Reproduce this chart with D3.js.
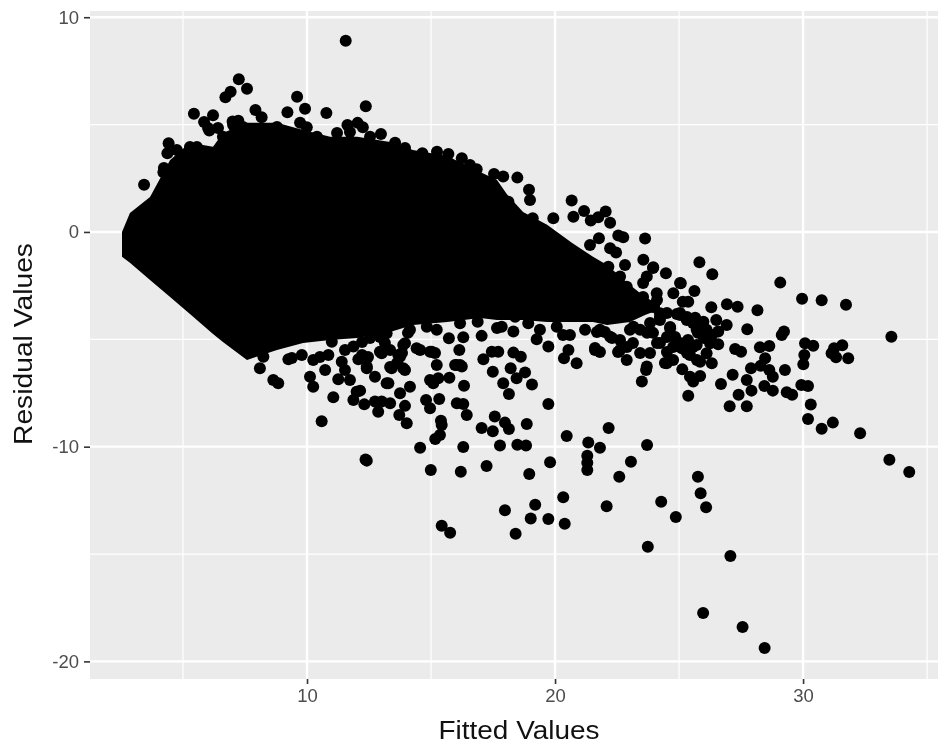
<!DOCTYPE html>
<html><head><meta charset="utf-8">
<style>html,body{margin:0;padding:0;background:#fff}svg{display:block;filter:blur(.45px)}</style>
<script src="https://cdn.jsdelivr.net/npm/d3@7/dist/d3.min.js"></script></head><body><div id="chart"></div>
<script>
const xLabel = "Fitted Values", yLabel = "Residual Values";
const xTicks = [10,20,30], yTicks = [-20,-10,0,10];
const xMinor = [5,15,25,35], yMinor = [-15,-5,5];
// silhouette of the overplotted core of the cloud: fitted value, top and bottom residual
const coreFitted = [2.54,2.86,3.67,4.48,5.28,6.21,6.61,7.58,8.79,9.84,10.93,12.02,13.35,14.27,15.65,16.98,17.66,18.06,18.71,19.68,20.69,21.53,22.10,23.02,23.63,24.23];
const coreTop = [0,.88,1.63,3.35,4.15,3.97,4.61,5.08,5.08,4.75,4.43,4.43,4.19,3.82,3.54,2.79,2.42,1.75,.93,.33,-.51,-1.16,-1.54,-2.47,-3.03,-3.40];
const coreBottom = [-1.16,-1.44,-2.24,-3.03,-3.82,-4.75,-5.12,-5.96,-5.50,-5.17,-5.03,-4.94,-4.66,-4.33,-4.19,-4.01,-4.10,-4.10,-4.10,-4.19,-4.19,-4.19,-4.33,-4.19,-3.87,-3.60];
// individual points [fitted, residual]
const upperRim = [[11.56,8.90],[7.25,7.11],[7.58,6.67],[6.92,6.53],[6.71,6.27],[9.60,6.30],[7.92,5.68],[9.21,5.58],[9.92,5.74],[10.78,5.54],[12.37,5.85],[5.44,5.51],[6.21,5.44],[5.85,5.12],[6.06,4.72],[7.00,5.14],[7.23,5.18],[8.17,5.34],[9.72,5.09],[9.99,4.88],[11.63,4.98],[12.04,5.08],[12.25,4.88],[12.98,4.56],[4.42,4.13],[4.37,3.67],[4.21,2.78],[3.43,2.20],
[4.23,2.98],[4.75,3.82],[6.01,4.84],[6.41,4.84],[6.61,4.43],[7.02,4.98],[7.42,4.89],[8.79,4.89],[10.40,4.43],[11.21,4.61],[12.54,4.43],[11.73,4.66],[5.28,3.96],[5.56,3.96],[13.55,4.15],[13.95,3.91],[16.57,3.12],[15.24,3.73],
[14.65,3.67],[15.70,3.63],[16.24,3.43],[16.84,2.92],[17.54,2.70],[17.91,2.58],[18.48,2.53],[18.95,1.96],[18.99,1.49],[18.12,1.41],[19.10,.64],[19.93,.64],[20.67,1.46],[20.74,.71],[21.17,.98],[21.44,.53],[22.04,.95],[22.22,.43],[21.74,.68],[22.55,-.17],[22.75,-.25],[23.63,-.31],[21.77,-.29],[21.41,-.61],[22.22,-.76],[22.46,-.96],[22.82,-1.54],[22.15,-1.62],[23.56,-1.30],[23.96,-1.64],[24.47,-1.92],[24.77,-2.86],[25.04,-2.38],[24.10,-2.86],[23.55,-3.03],[23.70,-2.08],[22.62,-2.08],[22.89,-2.55],[24.91,-3.82],[24.64,-4.49],[24.23,-3.79],[23.16,-4.41],[22.74,-3.45],[23.95,-1.68],[23.55,-2.38],[23.95,-3.49],[24.23,-4.10],[23.71,-4.70]];
const middleBand = [[21.81,-4.56],[22.22,-4.88],[21.61,-5.50],[20.60,-4.80],[20.07,-4.41],[19.73,-5.34],[20.54,-5.50],[20.36,-5.88],[20.87,-6.12],[22.62,-5.50],[22.89,-5.96],[23.43,-5.64],[23.70,-6.27],[24.50,-6.12],[25.04,-5.34],[19.26,-5.00],[19.39,-4.56],[18.92,-4.25],[18.32,-4.64],[17.85,-4.41],[18.39,-3.95],[17.04,-4.84],[16.88,-4.18],[16.30,-4.90],[16.17,-4.25],[15.72,-4.95],[16.14,-5.50],[15.23,-4.56],[14.83,-4.41],[14.15,-4.56],[17.11,-5.93],[17.45,-5.58],[17.71,-5.58],[18.32,-5.62],[18.62,-5.81],[15.23,-6.20],[15.97,-6.20],[16.17,-6.20],[14.96,-5.58],[14.42,-5.42],[13.95,-5.18],[13.75,-5.81],[13.21,-4.72],[13.35,-5.50],
[17.66,-4.47],[20.32,-4.80],[21.69,-4.66],[22.01,-4.66],[22.30,-4.94],[21.61,-5.40],[21.81,-5.59],[22.54,-5.59],[22.90,-5.36],[21.21,-4.56],[15.16,-5.64],[14.07,-4.70],
[17.49,-6.51],[18.21,-6.35],[18.79,-6.54],[18.45,-6.81],[17.91,-7.05],[19.07,-7.11],[18.14,-7.55],[16.03,-6.20],[16.24,-6.27],[15.74,-6.79],[15.29,-6.81],[14.96,-6.89],[15.09,-7.05],[16.33,-7.16],[15.33,-7.78],[14.80,-7.83],[14.96,-8.21],[16.04,-7.98],[16.30,-8.01],[16.44,-8.52],[15.40,-8.79],[15.43,-8.99],[15.36,-9.46],[15.17,-9.64],[14.56,-10.05],[16.30,-10.01],[17.04,-9.13],[17.49,-9.28],[17.57,-8.60],[17.98,-8.88],[18.14,-9.18],[18.86,-8.94],[19.73,-8.01],[17.78,-9.95],[18.48,-9.91],[18.83,-9.95],[20.47,-9.50],[22.16,-9.13],[21.34,-9.81],[21.81,-10.05],[23.71,-9.92],[21.30,-10.42],[21.30,-10.75],[21.30,-11.09],[19.80,-10.73],[17.24,-10.90],[18.96,-11.27],[16.20,-11.17],[14.99,-11.09],[12.41,-10.65],[12.36,-10.60],[20.33,-12.36],[19.20,-12.70],[17.98,-12.96],[19.02,-13.34],[19.73,-13.37],[20.39,-13.59],[18.41,-14.05],[15.43,-13.68],[15.77,-14.01],[23.06,-10.70],[22.59,-11.40],[25.76,-11.40],[25.87,-12.17],[26.09,-12.82],[24.28,-12.56],[24.87,-13.28],[22.08,-12.78],[23.74,-14.66],[27.07,-15.09],[25.97,-17.75],[27.56,-18.40],[28.45,-19.38]];
const lowerLeft = [[13.88,-5.26],[13.68,-5.73],[13.41,-6.35],[13.88,-6.35],[12.74,-6.74],[13.28,-7.05],[14.15,-7.21],[13.75,-7.51],[13.01,-7.90],[13.35,-7.98],[12.87,-8.37],[12.31,-8.03],[13.95,-8.10],[13.72,-8.52],[14.02,-8.91],[12.41,-6.27],[12.14,-7.39],[15.03,-5.58],[14.56,-5.50],[12.94,-5.58],
[10.52,-5.82],[12.22,-5.73],[12.46,-5.82],[13.63,-6.10],[13.83,-5.64],[13.95,-6.43],[13.35,-6.29],[12.94,-4.89],[13.14,-5.17],[12.54,-4.94],[12.22,-5.12],[11.53,-5.50],[9.39,-5.87],
[8.10,-6.35],[8.64,-6.89],[8.84,-7.05],[9.79,-5.73],[9.25,-5.93],[10.12,-6.74],[10.25,-7.21],[10.59,-8.82],[11.06,-7.70],[10.73,-6.43],[10.25,-5.96],[10.86,-5.73],[11.40,-6.04],[11.53,-6.43],[11.26,-6.86],[11.73,-6.89],[12.00,-7.44],[11.87,-7.83],[12.74,-7.90],[12.07,-5.93],[11.87,-5.34],[13.01,-5.65],[13.21,-7.05],[11.00,-5.11],[8.24,-5.81],[12.41,-6.35]];
const rightTail = [[25.82,-1.41],[26.34,-1.97],[29.08,-2.36],[29.96,-3.11],[30.75,-3.18],[31.73,-3.39],[33.56,-4.88],[25.07,-2.39],[25.62,-2.75],[25.37,-3.25],[25.15,-3.25],[26.30,-3.51],[26.93,-3.37],[27.36,-3.48],[28.16,-3.65],[25.04,-3.87],[25.31,-4.10],[25.98,-4.18],[26.92,-4.33],[26.58,-4.64],[26.11,-4.56],[25.71,-4.56],[27.75,-4.53],[29.23,-4.64],[29.14,-4.80],[26.25,-5.18],[26.58,-5.23],[27.26,-5.45],[27.50,-5.58],[28.26,-5.37],[28.64,-5.31],[28.47,-5.88],[30.08,-5.18],[30.41,-5.30],[30.05,-5.73],[30.01,-6.16],[31.58,-5.28],[31.25,-5.42],[31.15,-5.65],[31.33,-5.84],[31.82,-5.88],[29.27,-6.43],[27.90,-6.35],[28.29,-6.23],[28.64,-6.43],[28.78,-6.74],[27.16,-6.65],[27.73,-6.89],[26.69,-7.08],[25.85,-6.71],[25.44,-6.74],[25.57,-6.97],[25.13,-6.40],[26.32,-6.12],[25.85,-6.04],[26.11,-5.65],[25.44,-5.73],[25.11,-5.42],[25.37,-7.63],[27.40,-7.58],[27.92,-7.39],[28.44,-7.17],[28.78,-7.39],[29.34,-7.47],[29.56,-7.58],[29.93,-7.13],[30.20,-7.17],[27.04,-8.12],[27.73,-8.12],[30.31,-8.04],[30.20,-8.71],[31.20,-8.88],[30.75,-9.16],[32.30,-9.38],[33.48,-10.61],[34.28,-11.18],[24.23,-5.17],[24.76,-5.36],[25.32,-5.64],[23.83,-5.64],[24.43,-6.10],[23.50,-6.97],[23.67,-6.43],[25.71,-5.26],[25.36,-5.03],[26.00,-4.94],[25.65,-4.00],[26.50,-4.10],[26.33,-4.80],
[24.51,-4.89],[25.04,-5.17],[25.56,-5.36],[25.72,-5.96],[24.84,-4.89],[23.95,-4.70],[24.11,-5.17],[24.51,-5.59],[24.76,-5.96],[25.32,-5.17],[24.51,-3.77],[24.11,-3.17],[24.23,-3.96],[24.64,-4.43],[23.83,-4.24],[23.43,-4.56],[23.02,-4.56],[22.62,-5.03],[23.14,-5.17],[25.04,-3.77],[25.32,-3.96],[25.56,-4.24],[25.76,-4.70],[25.76,-4.24]];

const W=940,H=749,m={l:90,r:938,t:11,b:679};
const x=d3.scaleLinear().domain([1.25,35.44]).range([m.l,m.r]);
const y=d3.scaleLinear().domain([10.29,-20.82]).range([m.t,m.b]);
const svg=d3.select("#chart").append("svg").attr("width",W).attr("height",H).attr("font-family","'Liberation Sans',Arial,sans-serif");
svg.append("rect").attr("x",m.l).attr("y",m.t).attr("width",m.r-m.l).attr("height",m.b-m.t).attr("fill","#ebebeb");
const grid=svg.append("g").attr("stroke","#fff");
grid.selectAll(".vm").data(xMinor).join("line").attr("x1",x).attr("x2",x).attr("y1",m.t).attr("y2",m.b).attr("stroke-width",1.2);
grid.selectAll(".hm").data(yMinor).join("line").attr("y1",y).attr("y2",y).attr("x1",m.l).attr("x2",m.r).attr("stroke-width",1.2);
grid.selectAll(".vM").data(xTicks).join("line").attr("x1",x).attr("x2",x).attr("y1",m.t).attr("y2",m.b).attr("stroke-width",2.4);
grid.selectAll(".hM").data(yTicks).join("line").attr("y1",y).attr("y2",y).attr("x1",m.l).attr("x2",m.r).attr("stroke-width",2.4);

const core=coreFitted.map((f,i)=>({f,t:coreTop[i],b:coreBottom[i]}));
svg.append("path").datum(core).attr("fill","#000").attr("d",d3.area().x(d=>x(d.f)).y0(d=>y(d.b)).y1(d=>y(d.t)));
svg.append("g").selectAll("circle").data([...upperRim,...middleBand,...lowerLeft,...rightTail]).join("circle")
  .attr("cx",d=>x(d[0])).attr("cy",d=>y(d[1])).attr("r",6).attr("fill","#000");

const ax=svg.append("g").attr("transform",`translate(0,${m.b})`).call(d3.axisBottom(x).tickValues(xTicks).tickSize(5).tickPadding(5));
const ay=svg.append("g").attr("transform",`translate(${m.l},0)`).call(d3.axisLeft(y).tickValues(yTicks).tickSize(6).tickPadding(5).tickFormat(d=>String(d)));
[ax,ay].forEach(a=>{a.select(".domain").remove();a.selectAll(".tick line").attr("stroke","#333").attr("stroke-width",1.6);
  a.selectAll("text").attr("fill","#4d4d4d").attr("font-size",18.5).attr("font-family","'Liberation Sans',Arial,sans-serif");});
svg.append("text").attr("x",519).attr("y",739).attr("text-anchor","middle").attr("font-size",26).attr("fill","#111").attr("textLength",161).attr("lengthAdjust","spacingAndGlyphs").text(xLabel);
svg.append("text").attr("transform","translate(32,344) rotate(-90)").attr("text-anchor","middle").attr("font-size",26).attr("fill","#111").attr("textLength",202).attr("lengthAdjust","spacingAndGlyphs").text(yLabel);
</script></body></html>
